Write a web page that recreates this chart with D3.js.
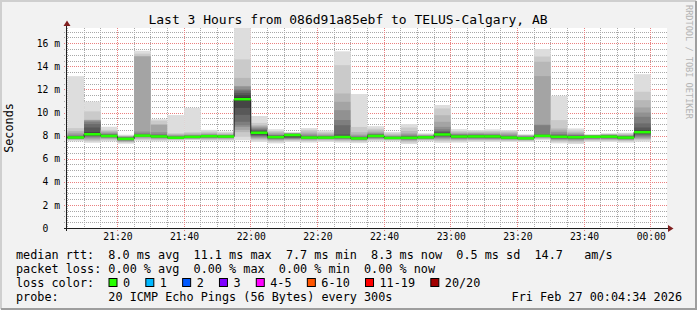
<!DOCTYPE html>
<html>
<head>
<meta charset="utf-8">
<script src="https://cdn.jsdelivr.net/npm/d3@7"></script>
<style>
  body { margin: 0; background: #f2f2f2; }
  svg { display: block; }
  svg text { font-family: "DejaVu Sans Mono", monospace; }
</style>
</head>
<body>
<svg id="chart" width="697" height="310"></svg>
<script>
// 5 minute buckets, label = end of bucket
var barEnd = ["21:10","21:15","21:20","21:25","21:30","21:35","21:40","21:45","21:50","21:55",
              "22:00","22:05","22:10","22:15","22:20","22:25","22:30","22:35","22:40","22:45",
              "22:50","22:55","23:00","23:05","23:10","23:15","23:20","23:25","23:30","23:35",
              "23:40","23:45","23:50","23:55","00:00"];

// median rtt per bucket (ms)
var medians = [7.84, 8.12, 7.97, 7.72, 8.0, 7.93, 7.82, 7.89, 7.95, 7.92,
               11.15, 8.25, 7.87, 8.05, 7.83, 7.83, 7.88, 7.76, 7.97, 7.8,
               7.81, 7.85, 8.1, 7.92, 7.93, 7.93, 7.83, 7.77, 7.98, 7.9,
               7.86, 7.9, 7.91, 7.83, 8.3];

// 20 sorted pings per bucket (ms)
var pings = [
  [7.50,7.60,7.65,7.70,7.72,7.75,7.78,7.80,7.82,7.83,7.85,7.88,7.90,7.95,8.00,8.10,8.25,8.40,8.65,13.15],
  [7.38,7.50,7.60,7.70,7.80,7.90,7.95,8.00,8.05,8.10,8.15,8.30,8.70,9.00,9.20,9.30,9.35,9.38,10.10,10.95],
  [7.50,7.60,7.70,7.75,7.80,7.85,7.88,7.90,7.93,7.96,7.98,8.00,8.05,8.10,8.15,8.20,8.30,8.40,8.50,8.77],
  [7.30,7.40,7.45,7.50,7.55,7.60,7.62,7.65,7.68,7.70,7.73,7.76,7.80,7.83,7.86,7.90,7.93,7.96,8.00,8.08],
  [7.55,7.65,7.72,7.80,7.88,7.92,7.95,7.97,7.98,7.99,8.01,8.02,8.04,8.10,8.20,8.35,14.85,14.90,15.10,15.35],
  [7.50,7.60,7.68,7.74,7.78,7.82,7.85,7.88,7.90,7.92,7.94,7.96,8.00,8.05,8.15,8.30,8.92,9.00,9.30,9.42],
  [7.55,7.62,7.68,7.72,7.75,7.77,7.79,7.80,7.81,7.82,7.83,7.85,7.87,7.90,7.95,8.00,8.05,8.15,8.20,9.78],
  [7.60,7.66,7.70,7.74,7.77,7.80,7.82,7.84,7.86,7.88,7.90,7.92,7.94,7.97,8.00,8.05,8.10,8.20,8.30,10.40],
  [7.55,7.62,7.70,7.75,7.80,7.84,7.87,7.90,7.92,7.94,7.96,7.98,8.00,8.03,8.06,8.10,8.15,8.25,8.35,8.50],
  [7.55,7.62,7.70,7.75,7.80,7.83,7.86,7.88,7.90,7.91,7.93,7.95,7.97,8.00,8.02,8.05,8.10,8.15,8.25,8.35],
  [7.60,7.90,8.30,8.50,8.75,8.90,9.20,9.80,10.40,11.00,11.30,11.50,11.70,11.90,12.00,12.25,12.30,13.00,14.60,17.80],
  [7.45,7.60,7.70,7.78,7.85,7.92,7.98,8.05,8.12,8.20,8.28,8.35,8.42,8.50,8.60,8.70,8.80,8.90,9.10,9.70],
  [7.33,7.45,7.55,7.62,7.68,7.72,7.76,7.80,7.83,7.86,7.88,7.92,7.96,8.00,8.05,8.10,8.20,8.30,8.40,8.55],
  [7.45,7.55,7.62,7.68,7.72,7.76,7.80,7.85,7.92,8.00,8.08,8.10,8.12,8.14,8.16,8.18,8.20,8.22,8.25,8.30],
  [7.40,7.50,7.58,7.64,7.70,7.74,7.77,7.79,7.80,7.82,7.84,7.86,7.90,7.95,8.00,8.10,8.20,8.35,8.50,8.65],
  [7.45,7.55,7.62,7.68,7.72,7.75,7.78,7.80,7.82,7.83,7.85,7.87,7.90,7.93,7.97,8.02,8.10,8.20,8.30,8.45],
  [7.40,7.50,7.58,7.65,7.70,7.74,7.78,7.82,7.85,7.87,7.90,7.95,8.10,8.90,9.35,10.20,10.93,11.65,14.10,15.30],
  [7.35,7.45,7.55,7.60,7.65,7.68,7.70,7.72,7.74,7.76,7.78,7.80,7.83,7.87,7.92,8.00,8.10,8.30,8.75,11.60],
  [7.50,7.60,7.67,7.72,7.77,7.82,7.86,7.90,7.93,7.96,7.99,8.02,8.05,8.10,8.15,8.20,8.30,8.45,8.60,8.82],
  [7.50,7.58,7.64,7.68,7.71,7.74,7.76,7.78,7.79,7.80,7.81,7.83,7.85,7.88,7.92,7.96,8.02,8.10,8.20,8.32],
  [7.27,7.40,7.50,7.58,7.64,7.68,7.72,7.75,7.78,7.80,7.82,7.85,7.90,7.95,8.00,8.10,8.20,8.40,8.70,9.00],
  [7.50,7.58,7.64,7.68,7.72,7.75,7.78,7.80,7.82,7.84,7.86,7.88,7.90,7.93,7.96,8.00,8.04,8.08,8.12,8.20],
  [7.38,7.50,7.60,7.70,7.78,7.85,7.92,7.98,8.03,8.07,8.12,8.20,8.30,8.40,8.55,8.76,9.20,9.77,10.35,10.65],
  [7.40,7.50,7.60,7.67,7.72,7.77,7.81,7.85,7.88,7.91,7.94,7.97,8.00,8.05,8.10,8.15,8.20,8.30,8.40,8.56],
  [7.45,7.55,7.62,7.68,7.73,7.78,7.82,7.86,7.89,7.92,7.95,7.98,8.01,8.05,8.10,8.15,8.22,8.30,8.38,8.48],
  [7.45,7.55,7.62,7.68,7.73,7.77,7.81,7.85,7.88,7.91,7.94,7.97,8.00,8.04,8.08,8.14,8.20,8.30,8.40,8.54],
  [7.45,7.53,7.60,7.65,7.69,7.72,7.75,7.78,7.80,7.82,7.84,7.86,7.90,7.95,8.00,8.08,8.18,8.28,8.38,8.48],
  [7.45,7.52,7.58,7.62,7.66,7.69,7.71,7.73,7.75,7.76,7.78,7.80,7.83,7.86,7.90,7.95,8.00,8.04,8.07,8.10],
  [7.60,7.70,7.76,7.82,7.86,7.90,7.93,7.95,7.97,7.98,8.00,8.03,8.06,8.10,8.90,8.95,13.15,14.40,14.85,15.50],
  [7.33,7.45,7.55,7.62,7.68,7.73,7.77,7.81,7.85,7.88,7.91,7.95,8.00,8.06,8.15,8.30,8.45,8.62,9.34,11.45],
  [7.27,7.40,7.50,7.58,7.65,7.70,7.74,7.78,7.82,7.85,7.88,7.91,7.95,8.00,8.05,8.12,8.20,8.30,8.45,8.62],
  [7.45,7.55,7.62,7.68,7.72,7.76,7.80,7.83,7.86,7.89,7.92,7.94,7.96,7.98,8.00,8.02,8.04,8.06,8.08,8.10],
  [7.45,7.55,7.62,7.68,7.72,7.76,7.80,7.83,7.86,7.89,7.92,7.95,7.98,8.00,8.03,8.06,8.09,8.12,8.15,8.20],
  [7.40,7.50,7.58,7.63,7.67,7.70,7.73,7.76,7.79,7.82,7.85,7.88,7.91,7.94,7.97,8.00,8.05,8.10,8.18,8.25],
  [7.47,7.60,7.70,7.76,7.85,7.95,8.05,8.15,8.22,8.28,8.32,8.48,8.70,9.06,9.63,10.00,10.44,11.07,11.80,13.32]
];

var yTicks = [0, 2, 4, 6, 8, 10, 12, 14, 16];
var lossLabels = ["0", "1", "2", "3", "4-5", "6-10", "11-19", "20/20"];
var lossColors = ["#26ff00", "#00b8ff", "#0059ff", "#7e00ff", "#ff00ff", "#ff5500", "#ff0000", "#a10000"];

var legendRows = [
  "median rtt:  8.0 ms avg  11.1 ms max  7.7 ms min  8.3 ms now  0.5 ms sd  14.7   am/s",
  "packet loss: 0.00 % avg  0.00 % max  0.00 % min  0.00 % now",
  "loss color:",
  "probe:       20 ICMP Echo Pings (56 Bytes) every 300s"
];
var title = "Last 3 Hours from 086d91a85ebf to TELUS-Calgary, AB";
var stamp = "Fri Feb 27 00:04:34 2026";

var W = 697, H = 310;
var plotL = 67, plotR = 667, plotT = 28, plotB = 228;
var tStart = new Date(2026, 1, 26, 21, 4, 34);
var tEnd = new Date(2026, 1, 27, 0, 4, 34);

function parseEnd(s) {
  var hm = s.split(":").map(Number);
  var day = hm[0] >= 12 ? 26 : 27;
  return new Date(2026, 1, day, hm[0], hm[1], 0);
}

var bars = barEnd.map(function(s, i) {
  var end = parseEnd(s);
  return { start: d3.timeMinute.offset(end, -5), end: end, med: medians[i], p: pings[i] };
});

var x = d3.scaleTime().domain([tStart, tEnd]).range([66, 666]);
var y = d3.scaleLinear().domain([0, 17.32]).range([228, 28]);

var svg = d3.select("#chart");
var defs = svg.append("defs");

// dotted grid patterns (1 on, 1 off)
function dotPattern(id, col, horiz) {
  var p = defs.append("pattern").attr("id", id).attr("patternUnits", "userSpaceOnUse")
    .attr("width", horiz ? 2 : 1).attr("height", horiz ? 1 : 2);
  p.append("rect").attr("width", 1).attr("height", 1).attr("fill", col);
}
var minorCol = "#a8a8a8";
var majorCol = "#ea8080";
dotPattern("dotMinH", minorCol, true);
dotPattern("dotMinV", minorCol, false);
dotPattern("dotMajH", majorCol, true);
dotPattern("dotMajV", majorCol, false);

// frame with rrdtool shading
svg.append("rect").attr("width", W).attr("height", H).attr("fill", "#f2f2f2");
svg.append("path").attr("d", "M1,309V1H696").attr("fill", "none")
  .attr("stroke", "#cfcfcf").attr("stroke-width", 2);
svg.append("path").attr("d", "M1,309H696V1").attr("fill", "none")
  .attr("stroke", "#9e9e9e").attr("stroke-width", 2);

// plot background
svg.append("rect").attr("x", plotL).attr("y", plotT)
  .attr("width", plotR - plotL).attr("height", plotB - plotT).attr("fill", "#ffffff");

// grid (under the smoke)
var grid = svg.append("g").attr("shape-rendering", "crispEdges");

function hline(cls, data, pat) {
  grid.selectAll("rect." + cls).data(data).enter().append("rect")
    .attr("class", cls)
    .attr("x", plotL - 3).attr("width", plotR - plotL + 3)
    .attr("y", function(d) { return Math.round(y(d)); })
    .attr("height", 1)
    .attr("fill", "url(#" + pat + ")");
}
function vline(cls, data, pat, ext) {
  grid.selectAll("rect." + cls).data(data).enter().append("rect")
    .attr("class", cls)
    .attr("y", plotT).attr("height", plotB - plotT + ext)
    .attr("x", function(d) { return Math.floor(x(d)); })
    .attr("width", 1)
    .attr("fill", "url(#" + pat + ")");
}

var minorY = d3.range(0.5, 17.5, 0.5).filter(function(v) { return v % 2 !== 0; });
var majorY = yTicks.filter(function(v) { return v > 0; });
var minorX = d3.timeMinute.every(5).range(tStart, tEnd).filter(function(t) { return t.getMinutes() % 20 !== 0; });
var majorX = d3.timeMinute.every(20).range(tStart, tEnd);

hline("my", minorY, "dotMinH");
vline("mx", minorX, "dotMinV", 2);
hline("My", majorY, "dotMajH");
vline("Mx", majorX, "dotMajV", 3);

svg.append("clipPath").attr("id", "plotclip").append("rect")
  .attr("x", plotL).attr("y", plotT).attr("width", plotR - plotL).attr("height", plotB - plotT);

var plot = svg.append("g").attr("clip-path", "url(#plotclip)");

// smoke: nested bands, outermost pair lightest
function smokeGray(k) {
  var c = Math.floor(190 / 10 * (10 - k)) + 50;
  return d3.rgb(c, c, c).toString();
}

var barG = plot.selectAll("g.bar").data(bars).enter().append("g").attr("class", "bar");
d3.range(1, 11).forEach(function(k) {
  barG.append("rect")
    .attr("x", function(d) { return x(d.start); })
    .attr("width", function(d) { return x(d.end) - x(d.start); })
    .attr("y", function(d) { return y(d.p[20 - k]); })
    .attr("height", function(d) { return y(d.p[k - 1]) - y(d.p[20 - k]); })
    .attr("fill", smokeGray(k));
});

// median step line
var medPts = [];
bars.forEach(function(d) {
  medPts.push([x(d.start), y(d.med)]);
  medPts.push([x(d.end), y(d.med)]);
});
plot.append("path")
  .attr("d", d3.line()(medPts))
  .attr("fill", "none")
  .attr("stroke", "#202020")
  .attr("stroke-width", 1);

plot.selectAll("rect.med").data(bars).enter().append("rect")
  .attr("class", "med")
  .attr("x", function(d) { return x(d.start); })
  .attr("width", function(d) { return x(d.end) - x(d.start); })
  .attr("y", function(d) { return y(d.med) - 1.25; })
  .attr("height", 2.5)
  .attr("fill", lossColors[0]);

// axes labels through d3 axes
var xAxis = svg.append("g").attr("transform", "translate(0," + plotB + ")")
  .call(d3.axisBottom(x).tickValues(majorX).tickFormat(d3.timeFormat("%H:%M")).tickSize(0).tickPadding(5));
xAxis.select(".domain").remove();
xAxis.selectAll("text").attr("font-family", "DejaVu Sans Mono").attr("font-size", 9.7).attr("fill", "#000");

var yAxis = svg.append("g").attr("transform", "translate(60,0)")
  .call(d3.axisLeft(y).tickValues(yTicks).tickFormat(function(d) { return d === 0 ? "0" : d + " m"; }).tickSize(0).tickPadding(0));
yAxis.select(".domain").remove();
yAxis.selectAll("text").attr("font-family", "DejaVu Sans Mono").attr("font-size", 9.7).attr("fill", "#000")
  .attr("dx", function(d) { return d === 0 ? -11.7 : 0; });

// axis lines and arrows
svg.append("line").attr("x1", 64).attr("x2", 669).attr("y1", plotB + 0.5).attr("y2", plotB + 0.5)
  .attr("stroke", "#1f1f1f");
svg.append("line").attr("x1", plotL - 0.5).attr("x2", plotL - 0.5).attr("y1", plotB + 3).attr("y2", 25)
  .attr("stroke", "#1f1f1f");
svg.append("path").attr("d", "M668,225L673.5,228.5L668,232Z").attr("fill", "#801f1f");
svg.append("path").attr("d", "M63.5,26L67,20.5L70.5,26Z").attr("fill", "#801f1f");

// title
svg.append("text").attr("x", 348).attr("y", 23.5).attr("text-anchor", "middle")
  .attr("font-size", 13).attr("fill", "#000").text(title);

// unit label
svg.append("text").attr("transform", "translate(13,128) rotate(-90)")
  .attr("text-anchor", "middle").attr("font-size", 11.8).attr("fill", "#000").text("Seconds");

// watermark
svg.append("text").attr("transform", "translate(685.5,5) rotate(90)")
  .attr("font-size", 8.6).attr("fill", "#b4b4b4").text("RRDTOOL / TOBI OETIKER");

// legend
var legend = svg.append("g").attr("font-size", 11.8).attr("fill", "#000");
legend.selectAll("text.row").data(legendRows).enter().append("text")
  .attr("class", "row")
  .attr("x", 16)
  .attr("y", function(d, i) { return 258.5 + i * 14; })
  .attr("xml:space", "preserve")
  .style("white-space", "pre")
  .text(function(d) { return d; });

var cw = 7.12;
var lx = 108.5;
lossLabels.forEach(function(lab, i) {
  legend.append("rect").attr("x", lx + 0.5).attr("y", 278.5).attr("width", 8).attr("height", 8)
    .attr("fill", lossColors[i]).attr("stroke", "#000").attr("stroke-width", 1);
  legend.append("text").attr("x", lx + 14.5).attr("y", 286.5).text(lab);
  lx += 14.5 + lab.length * cw + 15.2;
});

legend.append("text").attr("x", 682).attr("y", 300.5).attr("text-anchor", "end").text(stamp);
</script>
</body>
</html>
